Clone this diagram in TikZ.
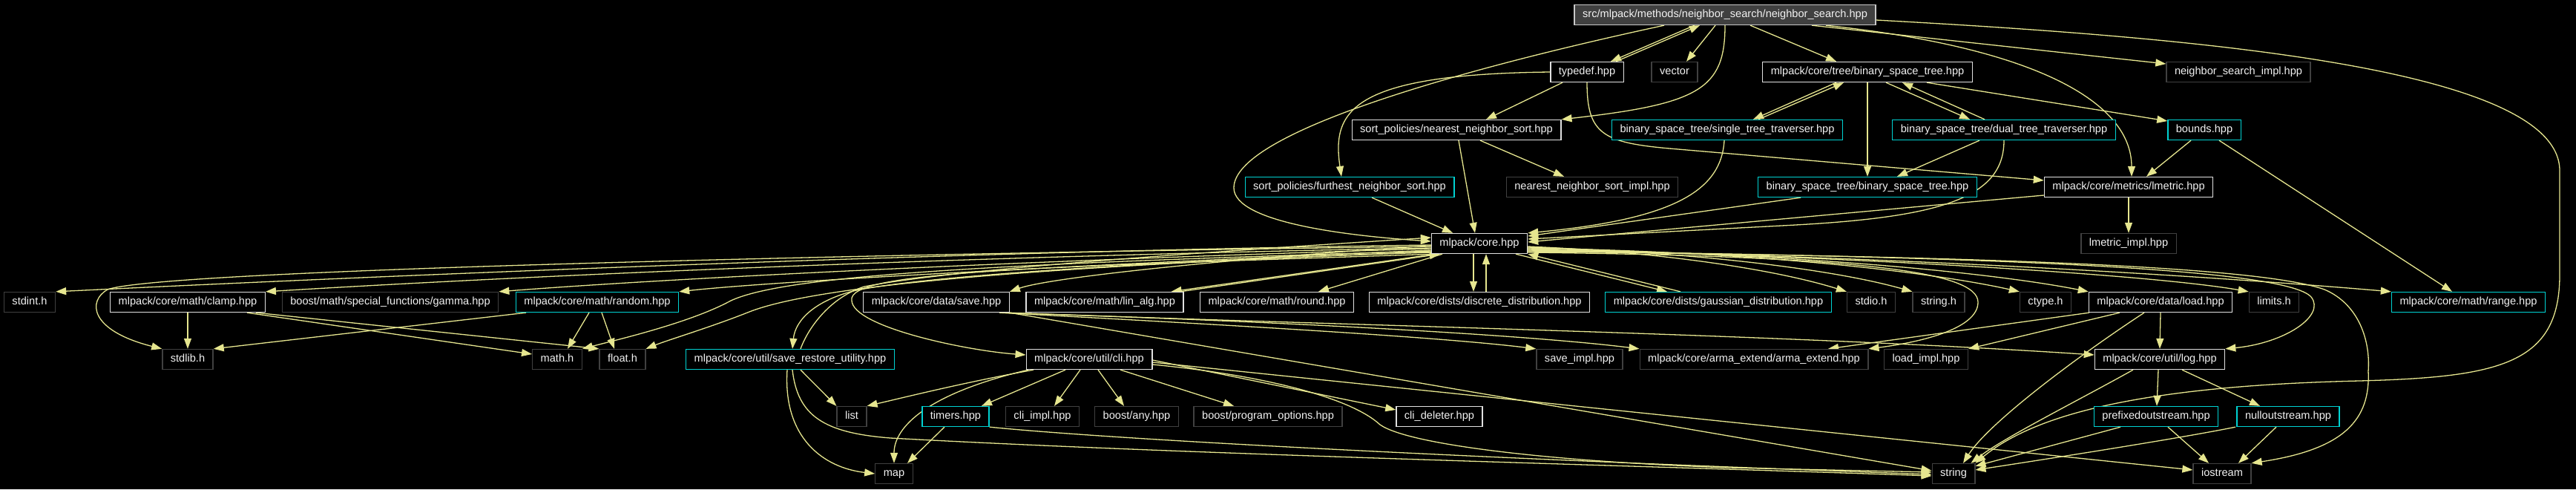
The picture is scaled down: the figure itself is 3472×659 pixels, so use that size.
\documentclass[tikz,border=0pt]{standalone}
\usepackage{fontspec}
\newfontfamily\nodefont{Liberation Sans}
\usetikzlibrary{arrows.meta}
\definecolor{edgec}{HTML}{E6E68F}
\definecolor{docc}{HTML}{E0E0E0}
\definecolor{cyanc}{HTML}{00D2D2}
\definecolor{extc}{HTML}{404040}
\definecolor{rootb}{HTML}{C8C8C8}
\definecolor{rootf}{HTML}{404040}
\definecolor{txtc}{HTML}{F2F2F2}
\pgfdeclarelayer{bg}
\pgfdeclarelayer{edges}
\pgfsetlayers{bg,edges,main}
\begin{document}
\begin{tikzpicture}[x=1pt,y=-1pt,
  nd/.style={line width=1.3pt, minimum height=27pt, inner xsep=11pt, inner ysep=0pt, text=txtc,
    font=\nodefont\fontsize{14.6pt}{17pt}\selectfont, text height=10.6pt, text depth=3pt, fill=black},
  docnd/.style={nd, draw=docc},
  trnd/.style={nd, draw=cyanc},
  extnd/.style={nd, draw=extc},
  rootnd/.style={nd, draw=rootb, fill=rootf},
  lnk/.style={draw=edgec, line width=1.3pt, -{Triangle[length=14pt,width=10pt]}}]
\begin{pgfonlayer}{bg}
\fill[black] (0,0) rectangle (3472,659);
\end{pgfonlayer}
\useasboundingbox (0,0) rectangle (3472,659);

% ---------------- nodes ----------------
\node[rootnd] (main) at (2325,20) {src/mlpack/methods/neighbor\_search/neighbor\_search.hpp};
\node[docnd] (typedef) at (2139,97) {typedef.hpp};
\node[extnd] (vector) at (2257,97) {vector};
\node[docnd] (tree) at (2517,97) {mlpack/core/tree/binary\_space\_tree.hpp};
\node[extnd] (nsimpl) at (3017,97) {neighbor\_search\_impl.hpp};
\node[docnd] (nns) at (1963,175) {sort\_policies/nearest\_neighbor\_sort.hpp};
\node[trnd] (stt) at (2328,175) {binary\_space\_tree/single\_tree\_traverser.hpp};
\node[trnd] (dtt) at (2701,175) {binary\_space\_tree/dual\_tree\_traverser.hpp};
\node[trnd] (bounds) at (2971,175) {bounds.hpp};
\node[trnd] (fns) at (1819,252) {sort\_policies/furthest\_neighbor\_sort.hpp};
\node[extnd] (nnsimpl) at (2146,252) {nearest\_neighbor\_sort\_impl.hpp};
\node[trnd] (bst) at (2517,252) {binary\_space\_tree/binary\_space\_tree.hpp};
\node[docnd] (lmetric) at (2869,252) {mlpack/core/metrics/lmetric.hpp};
\node[docnd] (core) at (1994,328) {mlpack/core.hpp};
\node[extnd] (lmetricimpl) at (2869,328) {lmetric\_impl.hpp};

\node[extnd] (stdint) at (40,407) {stdint.h};
\node[docnd] (clamp) at (253,407) {mlpack/core/math/clamp.hpp};
\node[extnd] (gamma) at (526,407) {boost/math/special\_functions/gamma.hpp};
\node[trnd] (random) at (805,407) {mlpack/core/math/random.hpp};
\node[docnd] (save) at (1262,407) {mlpack/core/data/save.hpp};
\node[docnd] (linalg) at (1489,407) {mlpack/core/math/lin\_alg.hpp};
\node[docnd] (round) at (1721,407) {mlpack/core/math/round.hpp};
\node[docnd] (discrete) at (1994,407) {mlpack/core/dists/discrete\_distribution.hpp};
\node[trnd] (gaussian) at (2316,407) {mlpack/core/dists/gaussian\_distribution.hpp};
\node[extnd] (stdio) at (2522,407) {stdio.h};
\node[extnd] (stringh) at (2613,407) {string.h};
\node[extnd] (ctype) at (2757,407) {ctype.h};
\node[docnd] (load) at (2912,407) {mlpack/core/data/load.hpp};
\node[extnd] (limits) at (3065,407) {limits.h};
\node[trnd] (range) at (3327,407) {mlpack/core/math/range.hpp};

\node[extnd] (stdlib) at (253,484) {stdlib.h};
\node[extnd] (mathh) at (751,484) {math.h};
\node[extnd] (floath) at (839,484) {float.h};
\node[trnd] (sru) at (1065,484) {mlpack/core/util/save\_restore\_utility.hpp};
\node[docnd] (cli) at (1468,484) {mlpack/core/util/cli.hpp};
\node[extnd] (saveimpl) at (2129,484) {save\_impl.hpp};
\node[extnd] (arma) at (2364,484) {mlpack/core/arma\_extend/arma\_extend.hpp};
\node[extnd] (loadimpl) at (2596,484) {load\_impl.hpp};
\node[docnd] (log) at (2911,484) {mlpack/core/util/log.hpp};

\node[extnd] (list) at (1148,561) {list};
\node[trnd] (timers) at (1288,561) {timers.hpp};
\node[extnd] (cliimpl) at (1405,561) {cli\_impl.hpp};
\node[extnd] (any) at (1532,561) {boost/any.hpp};
\node[extnd] (po) at (1709,561) {boost/program\_options.hpp};
\node[docnd] (clidel) at (1940,561) {cli\_deleter.hpp};
\node[trnd] (prefixed) at (2906,561) {prefixedoutstream.hpp};
\node[trnd] (nullout) at (3084,561) {nulloutstream.hpp};

\node[extnd] (map) at (1205,638) {map};
\node[extnd] (string) at (2633,638) {string};
\node[extnd] (iostream) at (2995,638) {iostream};

% ---------------- edges ----------------
\begin{pgfonlayer}{edges}
% main
\draw[lnk] ([xshift=-41]main.south) -- ([xshift=32]typedef.north);
\draw[lnk] ([xshift=39]typedef.north) -- ([xshift=-34]main.south);
\draw[lnk] ([xshift=-13]main.south) -- ([xshift=16]vector.north);
\draw[lnk] ([xshift=34]main.south) -- ([xshift=-42]tree.north);
\draw[lnk] ([xshift=117]main.south) -- ([yshift=11]nsimpl.west);
\draw[lnk] ([yshift=-7]main.east) .. controls (2950,50) and (3450,90) .. (3450,230) -- (3450,370)
   .. controls (3450,490) and (3370,508) .. (3180,513) .. controls (2880,520) and (2740,560) .. (string.north east);
\draw[lnk] ([xshift=-82]main.south) .. controls (1960,95) and (1663,180) .. (1663,253)
   .. controls (1663,300) and (1820,318) .. ([yshift=3]core.west);
\draw[lnk] (main.south) .. controls (2325,120) and (2290,140) .. (nns.north east);
\draw[lnk] ([xshift=136]main.south) .. controls (2750,65) and (2873,140) .. ([xshift=4]lmetric.north);
% typedef
\draw[lnk] ([xshift=-33]typedef.south) -- ([xshift=40]nns.north);
\draw[lnk] (typedef.west) .. controls (1820,100) and (1795,150) .. ([xshift=-11]fns.north);
\draw[lnk] (typedef.south) .. controls (2139,180) and (2160,192) .. (2250,200) -- ([yshift=9]lmetric.west);
% sort policies
\draw[lnk] ([xshift=3]nns.south) -- ([xshift=-6]core.north);
\draw[lnk] ([xshift=32]nns.south) -- ([xshift=-38]nnsimpl.north);
\draw[lnk] ([xshift=30]fns.south) -- ([xshift=-36]core.north);
% tree
\draw[lnk] ([xshift=-42]tree.south) -- ([xshift=35]stt.north);
\draw[lnk] ([xshift=42]stt.north) -- ([xshift=-32]tree.south);
\draw[lnk] ([xshift=25]tree.south) -- ([xshift=-46]dtt.north);
\draw[lnk] ([xshift=-26]dtt.north) -- ([xshift=47]tree.south);
\draw[lnk] (tree.south) -- (bst.north);
\draw[lnk] ([xshift=80]tree.south) -- ([yshift=12]bounds.west);
\draw[lnk] ([xshift=-4]stt.south) .. controls (2320,255) and (2260,295) .. (core.north east);
\draw[lnk] (dtt.south) .. controls (2701,265) and (2620,292) .. (2420,303) -- ([yshift=6]core.east);
\draw[lnk] ([xshift=-33]dtt.south) -- ([xshift=40]bst.north);
\draw[lnk] ([xshift=-90]bst.south) -- ([yshift=10]core.east);
\draw[lnk] ([yshift=-11]lmetric.west) -- ([yshift=2]core.east);
\draw[lnk] (lmetric.south) -- (lmetricimpl.north);
\draw[lnk] ([xshift=-18]bounds.south) -- ([xshift=24]lmetric.north);
\draw[lnk] ([xshift=20]bounds.south) -- ([xshift=-22]range.north);
% core, left side
\draw[lnk] ([yshift=-2]core.west) .. controls (1300,338) and (500,372) .. (stdint.north east);
\draw[lnk] ([yshift=-4]core.west) .. controls (1300,340) and (220,362) .. (145,390)
   .. controls (118,405) and (120,445) .. (stdlib.north west);
\draw[lnk] ([yshift=-6]core.west) .. controls (1300,345) and (700,372) .. (clamp.north east);
\draw[lnk] ([yshift=-7]core.west) .. controls (1400,350) and (900,375) .. (gamma.north east);
\draw[lnk] ([yshift=-9]core.west) .. controls (1500,355) and (1050,378) .. (random.north east);
\draw[lnk] ([yshift=-10]core.west) .. controls (1350,355) and (1060,370) .. (985,405)
   .. controls (930,435) and (830,458) .. (mathh.north east);
\draw[lnk] ([yshift=-11]core.west) .. controls (1380,360) and (1100,385) .. (1010,420)
   .. controls (960,440) and (900,458) .. (floath.north east);
\draw[lnk] ([yshift=-12]core.west) .. controls (1600,350) and (1250,370) .. (1150,392)
   .. controls (1100,405) and (1072,430) .. ([xshift=3]sru.north);
\draw[lnk] ([xshift=14]sru.north) .. controls (1090,440) and (1120,400) .. (1165,386)
   .. controls (1300,360) and (1700,335) .. ([yshift=8]core.west);
\draw[lnk] ([xshift=4]core.south west) .. controls (1400,360) and (1140,365) .. (1148,405)
   .. controls (1150,440) and (1300,472) .. ([yshift=6]cli.west);
\draw[lnk] ([yshift=-3]core.west) .. controls (1700,345) and (1420,372) .. (save.north east);
\draw[lnk] ([xshift=6]core.south west) -- ([xshift=-17]linalg.north east);
\draw[lnk] ([xshift=-5]linalg.north east) -- ([xshift=12]core.south west);
\draw[lnk] ([xshift=-50]core.south) -- ([xshift=56]round.north);
\draw[lnk] ([xshift=-8]core.south) -- ([xshift=-8]discrete.north);
\draw[lnk] ([xshift=9]discrete.north) -- ([xshift=9]core.south);
\draw[lnk] ([xshift=49]core.south) -- ([xshift=-69]gaussian.north);
\draw[lnk] ([xshift=-51]gaussian.north) -- (core.south east);
% core, right side
\draw[lnk] ([yshift=-4]core.east) .. controls (2250,340) and (2400,365) .. (stdio.north west);
\draw[lnk] ([yshift=-5]core.east) .. controls (2300,340) and (2480,365) .. (stringh.north west);
\draw[lnk] ([yshift=-6]core.east) .. controls (2400,340) and (2620,370) .. (ctype.north west);
\draw[lnk] ([yshift=-7]core.east) .. controls (2450,342) and (2700,370) .. (load.north west);
\draw[lnk] ([yshift=-8]core.east) .. controls (2500,345) and (2900,370) .. (limits.north west);
\draw[lnk] ([yshift=-9]core.east) .. controls (2600,345) and (3050,378) .. (range.north west);
\draw[lnk] ([yshift=-10]core.east) .. controls (2650,345) and (3080,360) .. (3115,400)
   .. controls (3135,425) and (3080,462) .. (log.north east);
\draw[lnk] ([yshift=-11]core.east) .. controls (2700,345) and (3050,360) .. (3133,390)
   .. controls (3180,410) and (3195,460) .. (3192,500) .. controls (3195,565) and (3160,605) .. (iostream.north east);
\draw[lnk] ([yshift=-12]core.east) .. controls (2500,345) and (2666,365) .. (2666,407)
   .. controls (2666,445) and (2580,462) .. (arma.north east);
% math
\draw[lnk] (clamp.south) -- (stdlib.north);
\draw[lnk] ([xshift=80]clamp.south) -- ([yshift=7]mathh.west);
\draw[lnk] ([xshift=92]clamp.south) -- (floath.north west);
\draw[lnk] ([xshift=-96]random.south) -- (stdlib.north east);
\draw[lnk] ([xshift=-11]random.south) -- ([xshift=14]mathh.north);
\draw[lnk] ([xshift=6]random.south) -- ([xshift=-11]floath.north);
% save / load / log
\draw[lnk] ([xshift=85]save.south) .. controls (1700,440) and (1950,455) .. (saveimpl.north west);
\draw[lnk] ([xshift=90]save.south) .. controls (1700,432) and (2050,450) .. (arma.north west);
\draw[lnk] ([xshift=95]save.south) .. controls (1800,438) and (2400,450) .. ([yshift=6]log.west);
\draw[lnk] (save.south east) -- ([yshift=4]string.west);
\draw[lnk] (load.south) -- (log.north);
\draw[lnk] ([xshift=-96]load.south) -- ([xshift=100]arma.north);
\draw[lnk] ([xshift=-55]load.south) -- (loadimpl.north east);
\draw[lnk] ([xshift=-22]load.south) .. controls (2800,480) and (2680,570) .. ([xshift=13]string.north);
\draw[lnk] ([xshift=-36]log.south) .. controls (2800,540) and (2700,590) .. ([xshift=-6]string.north east);
\draw[lnk] ([xshift=-2]log.south) -- ([xshift=1]prefixed.north);
\draw[lnk] ([xshift=30]log.south) -- ([xshift=-38]nullout.north);
\draw[lnk] ([xshift=-48]prefixed.south) -- ([yshift=-4]string.north east);
\draw[lnk] ([xshift=16]prefixed.south) -- ([xshift=-18]iostream.north);
\draw[lnk] ([xshift=-16]nullout.south) -- ([xshift=22]iostream.north);
\draw[lnk] ([xshift=-71]nullout.south) .. controls (2950,588) and (2800,612) .. ([yshift=5]string.east);
% cli
\draw[lnk] ([xshift=-75]cli.south) .. controls (1300,515) and (1220,535) .. (list.north east);
\draw[lnk] ([xshift=-82]cli.south) .. controls (1250,530) and (1205,575) .. (map.north);
\draw[lnk] ([xshift=-32]cli.south) -- ([xshift=35]timers.north);
\draw[lnk] ([xshift=-12]cli.south) -- ([xshift=16]cliimpl.north);
\draw[lnk] ([xshift=12]cli.south) -- ([xshift=-17]any.north);
\draw[lnk] ([xshift=42]cli.south) -- ([xshift=-46]po.north);
\draw[lnk] ([yshift=-1]cli.east) -- ([yshift=9]clidel.west);
\draw[lnk] ([yshift=-4]cli.east) -- ([yshift=5]iostream.west);
\draw[lnk] ([yshift=-7]cli.east) .. controls (1700,505) and (1820,535) .. (1860,572)
   .. controls (1900,600) and (2100,622) .. (2330,630) -- ([yshift=2]string.west);
% timers, save_restore_utility
\draw[lnk] ([xshift=-15]timers.south) -- ([xshift=18]map.north);
\draw[lnk] (timers.south east) .. controls (1500,592) and (2000,618) .. ([yshift=-1]string.west);
\draw[lnk] ([xshift=14]sru.south) -- (list.north west);
\draw[lnk] ([xshift=-4]sru.south) .. controls (1055,590) and (1110,630) .. (map.west);
\draw[lnk] ([xshift=3]sru.south) .. controls (1075,560) and (1110,583) .. (1200,590)
   .. controls (1600,612) and (2200,627) .. ([yshift=-3]string.west);
\end{pgfonlayer}
\end{tikzpicture}
\end{document}
